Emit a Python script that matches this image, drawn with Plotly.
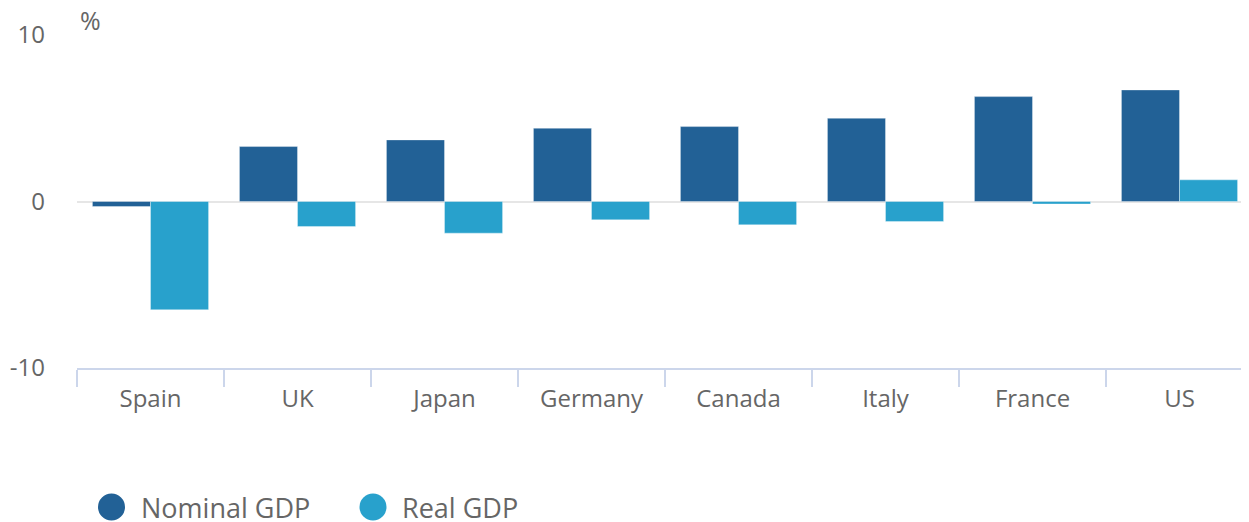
import plotly.graph_objects as go

countries = ["Spain", "UK", "Japan", "Germany", "Canada", "Italy", "France", "US"]
nominal_gdp = [-0.3, 3.3, 3.7, 4.4, 4.5, 5.0, 6.3, 6.7]
real_gdp = [-6.5, -1.5, -1.9, -1.1, -1.4, -1.2, -0.15, 1.3]
y_ticks = [-10, 0, 10]
y_tick_labels = ["-10", "0", "10"]

C_NOM = "#226196"
C_REAL = "#28a1cc"
TXT = "#666666"
FONT = "Open Sans"

# page body has an 8px margin; figure sized to fit the window
W, H = 1241, 514
L, T = 69, 27
PLOT_W = W - L
PLOT_H = 333
CAT_PX = 147

fig = go.Figure()
fig.add_trace(go.Bar(x=countries, y=nominal_gdp, name="Nominal GDP",
                     marker=dict(color=C_NOM, line=dict(color="rgba(255,255,255,0.35)", width=1)),
                     showlegend=False))
fig.add_trace(go.Bar(x=countries, y=real_gdp, name="Real GDP",
                     marker=dict(color=C_REAL, line=dict(color="rgba(255,255,255,0.35)", width=1)),
                     showlegend=False))

fig.update_layout(
    width=W, height=H,
    margin=dict(l=L, r=0, t=T, b=H - T - PLOT_H),
    paper_bgcolor="white", plot_bgcolor="white",
    barmode="group", bargap=0.21, bargroupgap=0,
    font=dict(family=FONT, color=TXT, size=24),
    xaxis=dict(tickson="boundaries", ticks="outside", ticklen=17, tickcolor="#ccd6eb",
               tickwidth=1.5, showline=True, linecolor="#ccd6eb", linewidth=1.5,
               showgrid=False, tickfont=dict(size=24, color=TXT), fixedrange=True,
               ticklabelstandoff=8,
               range=[-0.5, -0.5 + PLOT_W / CAT_PX]),
    yaxis=dict(range=[-10, 10], tickvals=y_ticks, ticktext=y_tick_labels, showgrid=True,
               gridcolor="#e6e6e6", gridwidth=2, zeroline=True, zerolinecolor="#e6e6e6",
               zerolinewidth=2, ticks="", ticklabelstandoff=31,
               tickfont=dict(size=24, color=TXT)),
)

fig.add_annotation(text="%", xref="paper", yref="paper", x=0.0, y=1.0, xanchor="left",
                   yanchor="bottom", xshift=1, yshift=-4, showarrow=False,
                   font=dict(size=25, color=TXT, family=FONT))

# custom legend (circle symbols), positions in screen pixels
legend_items = [("Nominal GDP", C_NOM, 111.5, 142), ("Real GDP", C_REAL, 373, 403)]
for label, col, cx, tx in legend_items:
    xp = (cx - 8 - L) / PLOT_W
    yp = -(507 - 8 - (T + PLOT_H)) / PLOT_H
    fig.add_shape(type="circle", xref="paper", yref="paper", xsizemode="pixel", ysizemode="pixel",
                  xanchor=xp, yanchor=yp, x0=-13.5, x1=13.5, y0=-13.5, y1=13.5,
                  fillcolor=col, line=dict(width=0))
    fig.add_annotation(text=label, xref="paper", yref="paper", x=(tx - 8 - L) / PLOT_W, y=yp,
                       xanchor="left", yanchor="middle", showarrow=False, xshift=-3,
                       font=dict(size=27, color=TXT, family=FONT))

fig.write_html("out.html", config={"displayModeBar": False})
